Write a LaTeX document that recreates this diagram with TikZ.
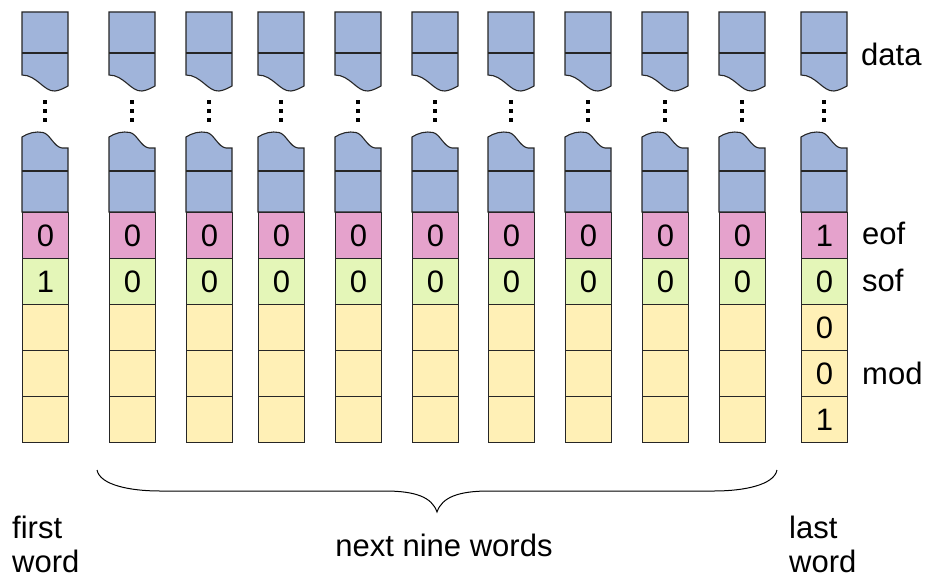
\documentclass[tikz,border=0pt]{standalone}
\usepackage{fontspec}
\setmainfont{Liberation Sans}
\definecolor{blueC}{HTML}{A0B4DA}
\definecolor{pinkC}{HTML}{E5A2CC}
\definecolor{greenC}{HTML}{E4F6B8}
\definecolor{yellowC}{HTML}{FFF0B6}
\tikzset{
  outl/.style={draw=black!85, line width=1.1pt, line join=miter},
  cellbox/.style={outl, minimum width=46pt, minimum height=46pt, inner sep=0pt, anchor=north west, font=\fontsize{31}{36}\selectfont},
  lbl/.style={anchor=base west, inner sep=0pt, font=\fontsize{31}{36}\selectfont},
  bracestyle/.style={draw=black, line width=1pt},
}
\newcommand{\wordcolumn}[7]{%
  \draw[outl, fill=blueC] (#2,12) -- (#2+46,12) -- (#2+46,86)
    .. controls (#2+42,88) and (#2+38,90.5) .. (#2+33,91)
    .. controls (#2+22,92) and (#2+15,75) .. (#2,75) -- cycle;
  \draw[outl] (#2,53) -- (#2+46,53);
  \fill (#2+21.2,100.2) rectangle ++(3.6,3.6);
  \fill (#2+21.2,109.2) rectangle ++(3.6,3.6);
  \fill (#2+21.2,118.2) rectangle ++(3.6,3.6);
  \draw[outl, fill=blueC] (#2,137)
    .. controls (#2+6,133) and (#2+14,131) .. (#2+21,132.5)
    .. controls (#2+28,134) and (#2+32,147) .. (#2+40,148)
    -- (#2+46,148) -- (#2+46,212) -- (#2,212) -- cycle;
  \draw[outl] (#2,171) -- (#2+46,171);
  \node[cellbox, fill=pinkC] (#1eof) at (#2,212) {#3};
  \node[cellbox, fill=greenC] (#1sof) at (#2,258) {#4};
  \node[cellbox, fill=yellowC] (#1ma) at (#2,304) {#5};
  \node[cellbox, fill=yellowC] (#1mb) at (#2,350) {#6};
  \node[cellbox, fill=yellowC] (#1mc) at (#2,396) {#7};
}
\begin{document}
\begin{tikzpicture}[x=1pt,y=-1pt]
\useasboundingbox (0,0) rectangle (928,578);
\foreach \xx/\s [count=\i] in {22/1,109/0,186/0,258/0,335/0,412/0,488/0,565/0,642/0,719/0}{
  \wordcolumn{c\i}{\xx}{0}{\s}{}{}{}
}
\wordcolumn{clast}{801}{1}{0}{0}{0}{1}
\node[lbl] (ldata) at (861,65) {data};
\node[lbl] (leof) at (862,244) {eof};
\node[lbl] (lsof) at (862,291) {sof};
\node[lbl] (lmod) at (862,384) {mod};
\node[lbl] (lfirst) at (12,538) {first};
\node[lbl] (lfirstw) at (12,572) {word};
\node[lbl] (llast) at (789,538) {last};
\node[lbl] (llastw) at (789,572) {word};
\node[lbl, anchor=base] (lnext) at (444,556) {next nine words};
\draw[bracestyle] (97,470) .. controls (100,485) and (130,491) .. (160,491) -- (385,491)
  .. controls (415,491) and (432,497) .. (437,512)
  .. controls (442,497) and (459,491) .. (489,491) -- (714,491)
  .. controls (744,491) and (774,485) .. (777,470);
\end{tikzpicture}
\end{document}
